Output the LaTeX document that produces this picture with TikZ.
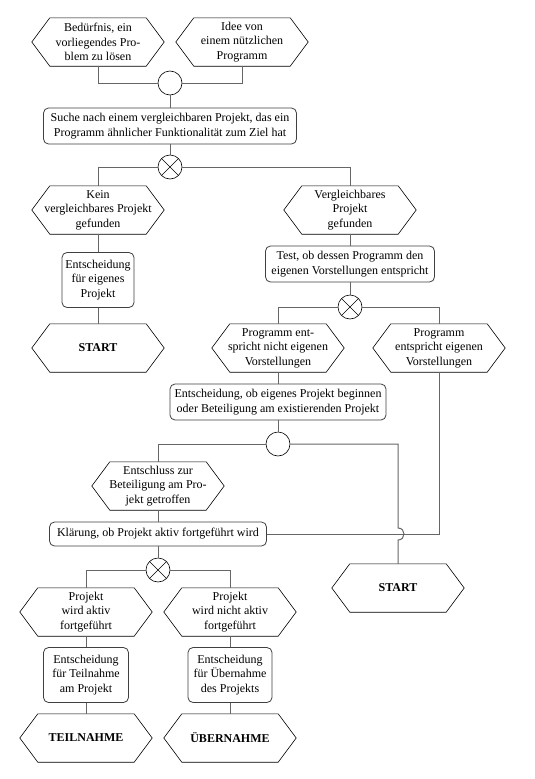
\documentclass[tikz,border=0pt]{standalone}
\usepackage{fontspec}
\setmainfont{Liberation Serif}
\newfontfamily\diagfont{Liberation Serif}
\begin{document}
\begin{tikzpicture}[x=1pt,y=-1pt,
  txt/.style={font=\diagfont\fontsize{12}{14.5}\selectfont, align=center, inner sep=0pt},
  evt/.style={txt, minimum width=132pt, minimum height=48pt},
  fun/.style={txt, draw=black!75, line width=0.8pt, rounded corners=5pt},
  hexline/.style={draw=black, line width=0.6pt},
  conn/.style={draw=black!60, line width=1pt},
  orc/.style={circle, draw=black, line width=0.6pt, fill=white, minimum size=24pt, inner sep=0pt},
  xorc/.style={orc, path picture={\draw[black, line width=0.6pt]
     (path picture bounding box.north west) -- (path picture bounding box.south east)
     (path picture bounding box.north east) -- (path picture bounding box.south west);}}
]
\newcommand\hexdraw[1]{\draw[hexline] (#1.west) -- ([xshift=18pt]#1.north west) -- ([xshift=-18pt]#1.north east) -- (#1.east) -- ([xshift=-18pt]#1.south east) -- ([xshift=18pt]#1.south west) -- cycle;}
\useasboundingbox (0,0) rectangle (535,779);
\fill[white] (0,0) rectangle (535,779);

% events
\node[evt] (e1) at (98,42) {Bedürfnis, ein\\vorliegendes Pro-\\blem zu lösen};
\node[evt] (e2) at (242,42) {Idee von\\einem nützlichen\\Programm};
\node[evt] (e3) at (98,210) {Kein\\vergleichbares Projekt\\gefunden};
\node[evt] (e4) at (350,210) {Vergleichbares\\Projekt\\gefunden};
\node[evt] (s1) at (98,348) {\textbf{START}};
\node[evt] (e5) at (278,348) {Programm ent-\\spricht nicht eigenen\\Vorstellungen};
\node[evt] (e6) at (439,348) {Programm\\entspricht eigenen\\Vorstellungen};
\node[evt] (e7) at (158,486) {Entschluss zur\\Beteiligung am Pro-\\jekt getroffen};
\node[evt] (s2) at (398,588) {\textbf{START}};
\node[evt] (e8) at (86,612) {Projekt\\wird aktiv\\fortgeführt};
\node[evt] (e9) at (230,612) {Projekt\\wird nicht aktiv\\fortgeführt};
\node[evt] (t1) at (86,738) {\textbf{TEILNAHME}};
\node[evt] (t2) at (230,738) {\textbf{ÜBERNAHME}};
\foreach \n in {e1,e2,e3,e4,s1,e5,e6,e7,s2,e8,e9,t1,t2} {\hexdraw{\n}}

% functions
\node[fun, minimum width=253pt, minimum height=36pt] (f1) at (170,126) {Suche nach einem vergleichbaren Projekt, das ein\\Programm ähnlicher Funktionalität zum Ziel hat};
\node[fun, minimum width=72pt, minimum height=55pt] (f2) at (98,280) {Entscheidung\\für eigenes\\Projekt};
\node[fun, minimum width=169pt, minimum height=36pt] (f3) at (350,264) {Test, ob dessen Programm den\\eigenen Vorstellungen entspricht};
\node[fun, minimum width=216pt, minimum height=36pt] (f4) at (278,402) {Entscheidung, ob eigenes Projekt beginnen\\oder Beteiligung am existierenden Projekt};
\node[fun, minimum width=217pt, minimum height=24pt] (f5) at (158,534) {Klärung, ob Projekt aktiv fortgeführt wird};
\node[fun, minimum width=85pt, minimum height=55pt] (f6) at (86,675) {Entscheidung\\für Teilnahme\\am Projekt};
\node[fun, minimum width=84pt, minimum height=55pt] (f7) at (230,675) {Entscheidung\\für Übernahme\\des Projekts};

% operators
\node[orc] (o1) at (170,83) {};
\node[xorc] (x1) at (170,167) {};
\node[xorc] (x2) at (350,307) {};
\node[orc] (o2) at (278,444) {};
\node[xorc] (x3) at (158,570) {};

\coordinate (hop) at (s2.north |- f5.east);

% connectors
\draw[conn] (e1.south) |- (o1.west);
\draw[conn] (e2.south) |- (o1.east);
\draw[conn] (o1) -- (f1);
\draw[conn] (f1) -- (x1);
\draw[conn] (x1.west) -| (e3.north);
\draw[conn] (x1.east) -| (e4.north);
\draw[conn] (e3) -- (f2);
\draw[conn] (f2) -- (s1);
\draw[conn] (e4) -- (f3);
\draw[conn] (f3) -- (x2);
\draw[conn] (x2.west) -| (e5.north);
\draw[conn] (x2.east) -| (e6.north);
\draw[conn] (e5) -- (f4);
\draw[conn] (f4) -- (o2);
\draw[conn] (o2.west) -| (e7.north);
\draw[conn] (e7) -- (f5);
\draw[conn] (f5) -- (x3);
\draw[conn] (o2.east) -| ([shift={(0,-6)}]hop)
   .. controls ([shift={(8,-6)}]hop) and ([shift={(8,6)}]hop) .. ([shift={(0,6)}]hop)
   -- (s2.north);
\draw[conn] (f5.east) -| (e6.south);
\draw[conn] (x3.west) -| (e8.north);
\draw[conn] (x3.east) -| (e9.north);
\draw[conn] (e8) -- (f6);
\draw[conn] (f6) -- (t1);
\draw[conn] (e9) -- (f7);
\draw[conn] (f7) -- (t2);
\end{tikzpicture}
\end{document}
